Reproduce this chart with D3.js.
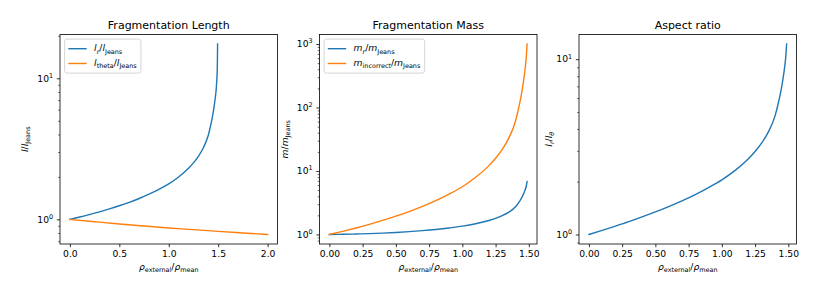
<!DOCTYPE html>
<html><head><meta charset="utf-8">
<script src="https://cdn.jsdelivr.net/npm/d3@7"></script>
<style>body{margin:0;background:#fff} svg{display:block} text{font-family:"DejaVu Sans",sans-serif;fill:#000}</style>
</head><body><svg id="c" width="830" height="292"></svg>
<script>
// ---------- data ----------
const xLength = [0,0.1,0.2,0.3,0.4,0.5,0.6,0.7,0.8,0.9,1.0,1.1,1.2,1.25,1.3,1.35,1.4,1.43,1.45,1.46,1.47,1.48,1.487,1.49,1.492,1.494];
const lrLength = [1.0,1.038,1.082,1.130,1.185,1.248,1.321,1.405,1.508,1.633,1.785,1.995,2.300,2.512,2.795,3.215,3.945,4.845,5.744,6.398,7.216,8.403,10.04,11.2,13.0,17.5];
const xTheta = [0,0.25,0.5,0.75,1.0,1.25,1.5,1.75,2.0];
const lthetaLength = [1.0,0.962,0.927,0.897,0.869,0.845,0.822,0.801,0.781];
const xMass = [0,0.1,0.2,0.3,0.4,0.5,0.6,0.7,0.8,0.9,1.0,1.1,1.2,1.25,1.3,1.35,1.4,1.43,1.45,1.46,1.47,1.48,1.487];
const mrMass = [1.0,1.006,1.017,1.031,1.051,1.076,1.108,1.148,1.200,1.267,1.352,1.476,1.662,1.795,1.975,2.246,2.726,3.324,3.923,4.361,4.907,5.702,6.80];
const mIncorrectMass = [1.0,1.12,1.266,1.443,1.664,1.940,2.298,2.766,3.41,4.33,5.65,7.95,12.15,15.85,21.85,33.2,61.4,113.7,189.5,261.9,375.7,593,1000];
const aspectRatio = [1.0,1.055,1.116,1.183,1.259,1.344,1.442,1.555,1.690,1.853,2.050,2.320,2.705,2.972,3.326,3.847,4.747,5.849,6.950,7.750,8.750,10.20,12.20];
const xTicksLength = [0,0.5,1.0,1.5,2.0];
const xTickLabelsLength = ["0.0","0.5","1.0","1.5","2.0"];
const xTicksMass = [0,0.25,0.5,0.75,1.0,1.25,1.5];
const xTickLabelsMass = ["0.00","0.25","0.50","0.75","1.00","1.25","1.50"];
const titles = ["Fragmentation Length","Fragmentation Mass","Aspect ratio"];
const BLUE = "#1f77b4", ORANGE = "#ff7f0e";

// ---------- helpers ----------
const FS = 9.2;
const svg = d3.select('#c');

function mathText(t, parts, fs) {
  let cur = 0;
  parts.forEach(([s, f]) => {
    f = f || '';
    const ts = t.append('tspan').text(s);
    if (f.includes('i')) ts.attr('font-style', 'italic');
    let target = 0, size = fs;
    if (f.includes('b')) { target = 0.24 * fs; size = fs * 0.7; }
    if (f.includes('p')) { target = -0.42 * fs; size = fs * 0.7; }
    ts.attr('font-size', size);
    if (target !== cur) ts.attr('dy', target - cur);
    cur = target;
  });
}

const xLabelParts = [["ρ","i"],["external","b"],["/",""],["ρ","i"],["mean","b"]];

function drawPanel(cfg) {
  const left = cfg.left, pTop = cfg.pTop, w = cfg.w, h = cfg.h;
  const g = svg.append('g');
  const xs = cfg.series.flatMap(s => s.x);
  const ls = cfg.series.flatMap(s => s.y.map(Math.log10));
  const [x0, x1] = d3.extent(xs), dx = (x1 - x0) * 0.05;
  const [l0, l1] = d3.extent(ls), dl = (l1 - l0) * 0.05;
  const x = d3.scaleLinear().domain([x0 - dx, x1 + dx]).range([left, left + w]);
  const y = d3.scaleLog().domain([10 ** (l0 - dl), 10 ** (l1 + dl)]).range([pTop + h, pTop]);
  const [ylo, yhi] = y.domain();

  const line = d3.line().x(d => x(d[0])).y(d => y(d[1])).curve(d3.curveMonotoneX);
  cfg.series.forEach(s => {
    g.append('path').datum(s.x.map((v, i) => [v, s.y[i]]))
      .attr('d', line).attr('fill', 'none').attr('stroke', s.color)
      .attr('stroke-width', 1.4).attr('stroke-linecap', 'square');
  });

  const xa = g.append('g').attr('transform', `translate(0,${pTop + h})`)
    .call(d3.axisBottom(x).tickValues(cfg.xticks).tickFormat((d, i) => cfg.xlabels[i])
      .tickSize(3.2).tickPadding(3.5));
  xa.select('.domain').remove();
  xa.selectAll('line').attr('stroke', '#000').attr('stroke-width', 0.8);
  xa.selectAll('text').attr('font-size', FS).attr('font-family', '"DejaVu Sans"');

  const majors = [], minors = [];
  for (let d = Math.floor(Math.log10(ylo)); d <= Math.ceil(Math.log10(yhi)); d++) {
    const m = 10 ** d;
    if (m >= ylo && m <= yhi) majors.push(d);
    for (let k = 2; k <= 9; k++) { const v = k * m; if (v >= ylo && v <= yhi) minors.push(v); }
  }
  const ya = g.append('g').attr('transform', `translate(${left},0)`)
    .call(d3.axisLeft(y).tickValues(majors.map(d => 10 ** d)).tickFormat('').tickSize(3.2));
  ya.select('.domain').remove();
  ya.selectAll('line').attr('stroke', '#000').attr('stroke-width', 0.8);
  const ym = g.append('g').attr('transform', `translate(${left},0)`)
    .call(d3.axisLeft(y).tickValues(minors).tickFormat('').tickSize(1.8));
  ym.select('.domain').remove();
  ym.selectAll('line').attr('stroke', '#000').attr('stroke-width', 0.6);
  majors.forEach(d => {
    const t = g.append('text').attr('x', left - 6.9).attr('y', y(10 ** d) + 3.3)
      .attr('text-anchor', 'end').attr('font-size', FS);
    mathText(t, [["10", ""], [String(d), "p"]], FS);
  });

  g.append('rect').attr('x', left).attr('y', pTop).attr('width', w).attr('height', h)
    .attr('fill', 'none').attr('stroke', '#000').attr('stroke-width', 0.8);

  g.append('text').attr('x', left + w / 2).attr('y', pTop - 5.5).attr('text-anchor', 'middle')
    .attr('font-size', 11).text(cfg.title);

  const xl = g.append('text').attr('x', left + w / 2).attr('y', 270).attr('text-anchor', 'middle')
    .attr('font-size', FS);
  mathText(xl, xLabelParts, FS);

  const yl = g.append('text').attr('transform', `translate(${cfg.ylabelX},${pTop + h / 2}) rotate(-90)`)
    .attr('text-anchor', 'middle').attr('font-size', FS);
  mathText(yl, cfg.ylabel, FS);

  if (cfg.legend) {
    const lg = g.append('g');
    const bx = left + 4.6, by = pTop + 4.6;
    const rect = lg.append('rect').attr('x', bx).attr('y', by).attr('rx', 2.5)
      .attr('fill', '#fff').attr('fill-opacity', 0.8).attr('stroke', '#ccc').attr('stroke-width', 0.8);
    let maxR = 0;
    cfg.legend.forEach((it, i) => {
      const cy = by + 9.6 + i * 14.8;
      lg.append('line').attr('x1', bx + 3.7).attr('x2', bx + 3.7 + 18.4)
        .attr('y1', cy).attr('y2', cy).attr('stroke', it.color).attr('stroke-width', 1.4);
      const t = lg.append('text').attr('x', bx + 3.7 + 18.4 + 7.4).attr('y', cy + 2.6)
        .attr('font-size', FS);
      mathText(t, it.parts, FS);
      const bb = t.node().getBBox();
      maxR = Math.max(maxR, bb.x + bb.width);
    });
    rect.attr('width', maxR + 3.7 - bx).attr('height', 34);
  }
}

const P_TOP = 34.5, P_H = 209.5, P_W = 217.5;
drawPanel({
  left: 60, pTop: P_TOP, w: P_W, h: P_H, title: titles[0],
  series: [{x: xLength, y: lrLength, color: BLUE}, {x: xTheta, y: lthetaLength, color: ORANGE}],
  xticks: xTicksLength, xlabels: xTickLabelsLength,
  ylabel: [["l","i"],["/",""],["l","i"],["Jeans","b"]], ylabelX: 28,
  legend: [
    {color: BLUE, parts: [["l","i"],["r","bi"],["/",""],["l","i"],["Jeans","b"]]},
    {color: ORANGE, parts: [["l","i"],["theta","b"],["/",""],["l","i"],["Jeans","b"]]}
  ]
});
drawPanel({
  left: 319.5, pTop: P_TOP, w: P_W, h: P_H, title: titles[1],
  series: [{x: xMass, y: mrMass, color: BLUE}, {x: xMass, y: mIncorrectMass, color: ORANGE}],
  xticks: xTicksMass, xlabels: xTickLabelsMass,
  ylabel: [["m","i"],["/",""],["m","i"],["Jeans","b"]], ylabelX: 288,
  legend: [
    {color: BLUE, parts: [["m","i"],["r","bi"],["/",""],["m","i"],["Jeans","b"]]},
    {color: ORANGE, parts: [["m","i"],["incorrect","b"],["/",""],["m","i"],["Jeans","b"]]}
  ]
});
drawPanel({
  left: 579, pTop: P_TOP, w: P_W, h: P_H, title: titles[2],
  series: [{x: xMass, y: aspectRatio, color: BLUE}],
  xticks: xTicksMass, xlabels: xTickLabelsMass,
  ylabel: [["l","i"],["r","bi"],["/",""],["l","i"],["θ","bi"]], ylabelX: 552
});
</script></body></html>
